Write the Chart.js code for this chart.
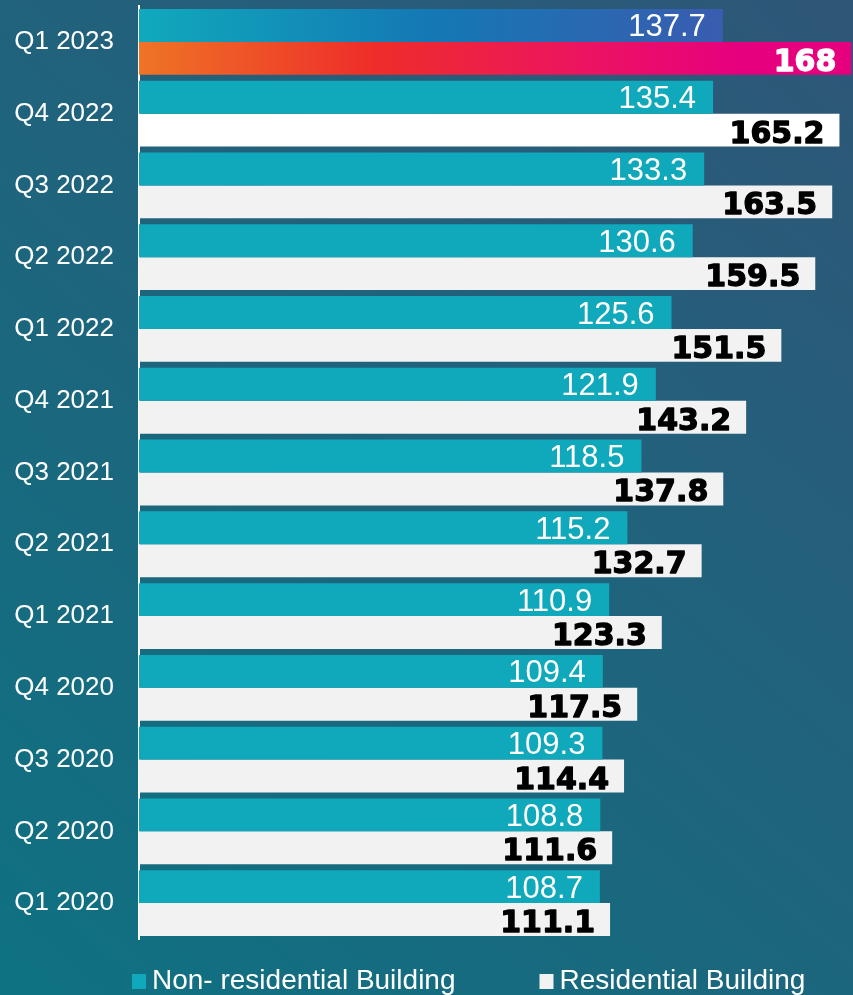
<!DOCTYPE html>
<html>
<head>
<meta charset="utf-8">
<script src="https://cdn.jsdelivr.net/npm/chart.js@4.4.1/dist/chart.umd.min.js"></script>
<style>
html,body{margin:0;padding:0;background:#1B6878;}
#wrap{width:853px;height:995px;}
</style>
</head>
<body>
<div id="wrap"><canvas id="c" width="853" height="995"></canvas></div>
<script>
const categories = ["Q1 2023","Q4 2022","Q3 2022","Q2 2022","Q1 2022","Q4 2021","Q3 2021","Q2 2021","Q1 2021","Q4 2020","Q3 2020","Q2 2020","Q1 2020"];
const nonResidential = [137.7,135.4,133.3,130.6,125.6,121.9,118.5,115.2,110.9,109.4,109.3,108.8,108.7];
const residential = [168,165.2,163.5,159.5,151.5,143.2,137.8,132.7,123.3,117.5,114.4,111.6,111.1];
const seriesNames = ["Non- residential Building","Residential Building"];

const TEAL = "#10A8BB";
const GRAY = "#F2F2F2";

function gradFor(ctx, stops, fallback){
  const chart = ctx.chart;
  const area = chart.chartArea;
  if(!area || !chart.scales.x) return fallback;
  const x0 = chart.scales.x.getPixelForValue(0);
  const x1 = chart.scales.x.getPixelForValue(ctx.raw);
  const g = chart.ctx.createLinearGradient(x0,0,x1,0);
  stops.forEach(s=>g.addColorStop(s[0],s[1]));
  return g;
}

const bgPlugin = {
  id:'bg',
  beforeDraw(chart){
    const c = chart.ctx;
    const g = c.createLinearGradient(0, chart.height, chart.width, 0);
    g.addColorStop(0,"#0E7282");
    g.addColorStop(1,"#2F5677");
    c.save();
    c.fillStyle = g;
    c.fillRect(0,0,chart.width,chart.height);
    c.restore();
  }
};

const labelPlugin = {
  id:'vals',
  afterDatasetsDraw(chart){
    const c = chart.ctx;
    c.save();
    c.textAlign = 'right';
    c.textBaseline = 'alphabetic';
    c.lineJoin = 'round';
    chart.data.datasets.forEach((ds,di)=>{
      const meta = chart.getDatasetMeta(di);
      meta.data.forEach((bar,i)=>{
        const v = ds.data[i];
        if(di===0){
          c.font = "31px 'Liberation Sans', Arial, sans-serif";
          c.fillStyle = "#FFFFFF";
          c.fillText(String(v), bar.x - 17, bar.y + 11);
        } else {
          c.font = "bold 30px 'DejaVu Sans', sans-serif";
          const col = i===0 ? "#FFFFFF" : "#000000";
          c.fillStyle = col;
          c.strokeStyle = col;
          c.lineWidth = 1.3;
          c.fillText(String(v), bar.x - 15, bar.y + 12.5);
          c.strokeText(String(v), bar.x - 15, bar.y + 12.5);
        }
      });
    });
    c.restore();
  }
};

const legendPlugin = {
  id:'customLegend',
  afterDraw(chart){
    const c = chart.ctx;
    c.save();
    c.font = "28px 'Liberation Sans', Arial, sans-serif";
    c.textBaseline = 'alphabetic';
    c.textAlign = 'left';
    const colors = [TEAL, GRAY];
    let x = 132;
    const baseY = 989;
    seriesNames.forEach((name,i)=>{
      c.fillStyle = colors[i];
      c.fillRect(x, 974, 14, 15);
      c.fillStyle = "#FFFFFF";
      c.fillText(name, x + 20, baseY);
      const w = c.measureText(name).width;
      x = x + 20 + w + 84;
    });
    c.restore();
  }
};

new Chart(document.getElementById('c'), {
  type:'bar',
  data:{
    labels: categories,
    datasets:[
      {
        label: seriesNames[0],
        data: nonResidential,
        backgroundColor: (ctx)=> ctx.dataIndex===0
          ? gradFor(ctx, [[0,"#10A9BC"],[0.5,"#1478B4"],[1,"#3A5CB0"]], "#1F85B8")
          : TEAL,
        borderWidth:0,
        barPercentage:1,
        categoryPercentage:0.917
      },
      {
        label: seriesNames[1],
        data: residential,
        backgroundColor: (ctx)=> ctx.dataIndex===0
          ? gradFor(ctx, [[0,"#EE7425"],[0.33,"#EE2D2A"],[0.62,"#EC1460"],[0.85,"#E6007E"],[1,"#E6007E"]], "#E9205A")
          : (ctx.dataIndex===1 ? "#FFFFFF" : GRAY),
        borderWidth:0,
        barPercentage:1,
        categoryPercentage:0.917
      }
    ]
  },
  options:{
    responsive:false,
    animation:false,
    indexAxis:'y',
    layout:{padding:{top:6,bottom:56,left:0,right:0}},
    plugins:{
      legend:{display:false},
      tooltip:{enabled:false}
    },
    scales:{
      x:{
        display:false,
        min:0,
        max:168.4
      },
      y:{
        afterFit(scale){ scale.width = 139; scale.paddingTop = 0; scale.paddingBottom = 0; },
        grid:{display:false, drawTicks:false},
        border:{display:true,color:"#FFFFFF",width:2},
        ticks:{
          color:"#FFFFFF",
          padding:25,
          font:{family:"'Liberation Sans', Arial, sans-serif",size:26}
        }
      }
    }
  },
  plugins:[bgPlugin,labelPlugin,legendPlugin]
});
</script>
</body>
</html>
